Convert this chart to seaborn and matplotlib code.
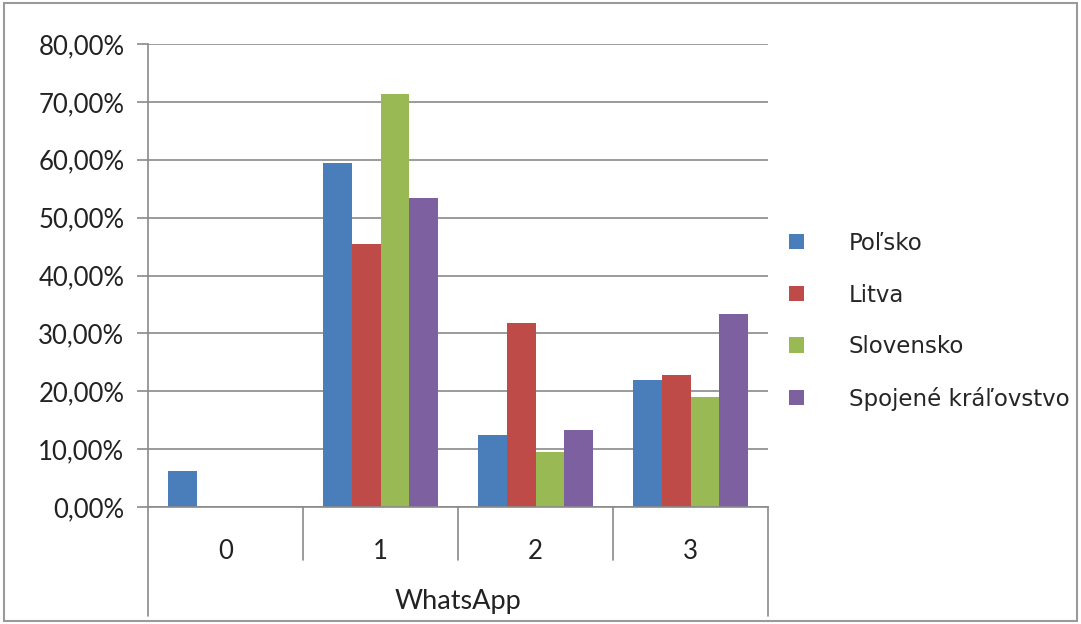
import matplotlib
matplotlib.use("Agg")
import matplotlib.pyplot as plt
import seaborn as sns
import pandas as pd
from matplotlib.patches import Rectangle
from matplotlib.ticker import FuncFormatter

# hodnoty odčítané z grafu (podiel respondentov)
kategorie = ["0", "1", "2", "3"]
krajiny = ["Poľsko", "Litva", "Slovensko", "Spojené kráľovstvo"]
polsko = [0.0625, 0.5938, 0.125, 0.2188]
litva = [0.0, 0.4545, 0.3182, 0.2273]
slovensko = [0.0, 0.7143, 0.0952, 0.1905]
uk = [0.0, 0.5333, 0.1333, 0.3333]
farby = ["#4A7EBB", "#BE4B48", "#98B954", "#7D60A0"]

rows = []
for krajina, hodnoty in zip(krajiny, [polsko, litva, slovensko, uk]):
    for kat, h in zip(kategorie, hodnoty):
        rows.append({"kat": kat, "krajina": krajina, "podiel": h})
df = pd.DataFrame(rows)

sns.set_theme(style="white")
plt.rcParams["font.family"] = ["Lato", "DejaVu Sans"]

fig = plt.figure(figsize=(10.81, 6.24), dpi=100)
ax = fig.add_axes([148 / 1081, 117 / 624, 620 / 1081, 463 / 624])

sns.barplot(data=df, x="kat", y="podiel", hue="krajina", order=kategorie,
            hue_order=krajiny, palette=farby, width=0.74, saturation=1,
            errorbar=None, ax=ax, legend=True, linewidth=0)

ax.set_ylim(0, 0.8)
ax.set_xlim(-0.5, 3.5)
ax.set_yticks([i / 10 for i in range(9)])
ax.yaxis.set_major_formatter(FuncFormatter(lambda v, p: f"{v * 100:.2f}".replace(".", ",") + "%"))
ax.yaxis.grid(True, color="#8a8a8a", lw=1.2)
ax.set_axisbelow(True)
ax.tick_params(axis="y", left=True, length=8, width=1.2, color="#8a8a8a",
               labelsize=18.5, pad=9, labelcolor="#222222")
ax.tick_params(axis="x", bottom=False, labelsize=18.5, pad=17, labelcolor="#222222")
ax.set_xlabel("")
ax.set_ylabel("")

for s in ["top", "right"]:
    ax.spines[s].set_visible(False)
for s in ["left", "bottom"]:
    ax.spines[s].set_color("#8a8a8a")
    ax.spines[s].set_linewidth(1.2)

# oddeľovače kategórií pod osou
tr = ax.get_xaxis_transform()
for x in [0.5, 1.5, 2.5]:
    ax.plot([x, x], [0, -0.115], transform=tr, color="#8a8a8a", lw=1.2, clip_on=False)
for x in [-0.5, 3.5]:
    ax.plot([x, x], [0, -0.235], transform=tr, color="#8a8a8a", lw=1.2, clip_on=False)
ax.text(1.5, -0.205, "WhatsApp", transform=tr, ha="center", va="center",
        fontsize=19.5, color="#222222")

handles, labels = ax.get_legend_handles_labels()
ax.legend(handles, labels, loc="center left", bbox_to_anchor=(789 / 1081, 0.485),
          bbox_transform=fig.transFigure, frameon=False, borderpad=0, borderaxespad=0,
          handlelength=0.65, handleheight=0.65, handletextpad=1.95, labelspacing=1.25,
          prop={"family": ["DejaVu Sans"], "size": 16.5})

# rám okolo celého obrázka
fig.patches.append(Rectangle((0.004, 0.005), 0.992, 0.99, transform=fig.transFigure,
                             fill=False, edgecolor="#9a9a9a", lw=1.5))

fig.savefig("out.png", dpi=100)
